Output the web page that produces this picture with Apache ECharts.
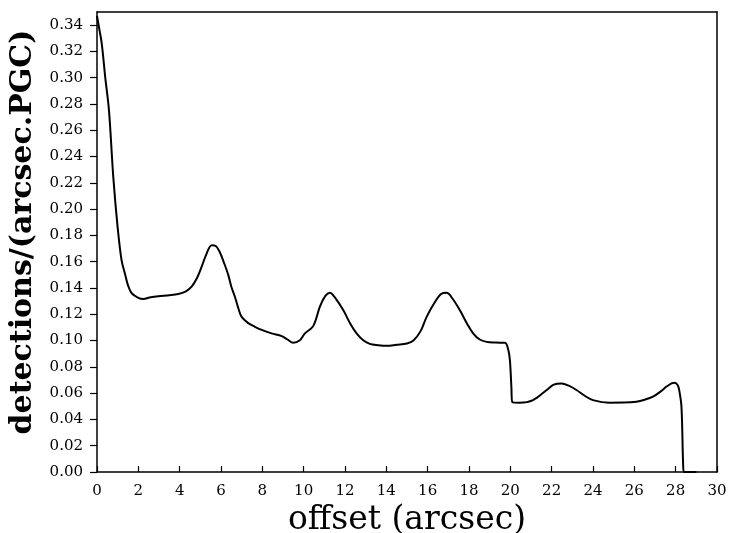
<!DOCTYPE html>
<html>
<head>
<meta charset="utf-8">
<script src="https://cdn.jsdelivr.net/npm/echarts@6/dist/echarts.min.js"></script>
<style>html,body{margin:0;padding:0;background:#fff}#c{width:730px;height:533px}</style>
</head>
<body>
<div id="c"></div>
<script>
const offsetArcsec = [0,0.1,0.23,0.4,0.58,0.79,1.0,1.19,1.35,1.5,1.68,2.0,2.24,2.6,2.97,3.5,3.93,4.3,4.58,4.85,5.06,5.3,5.55,5.75,5.95,6.15,6.35,6.5,6.68,6.85,7.0,7.3,7.64,8.0,8.45,8.94,9.2,9.5,9.8,10.06,10.46,10.79,11.05,11.27,11.5,11.92,12.25,12.56,12.9,13.2,13.6,14.0,14.5,15.0,15.3,15.65,15.95,16.3,16.65,16.92,17.2,17.56,17.9,18.2,18.5,18.85,19.3,19.74,19.9,19.98,20.05,20.1,20.46,21.1,21.76,22.1,22.48,22.85,23.2,23.6,24.0,24.8,25.5,26.1,26.5,26.9,27.25,27.56,27.8,27.96,28.1,28.17,28.28,28.36,28.4,29.0];
const detections = [0.347,0.338,0.326,0.300,0.275,0.224,0.186,0.161,0.151,0.142,0.136,0.1325,0.1316,0.1330,0.1338,0.1345,0.1354,0.1375,0.141,0.148,0.156,0.166,0.1726,0.172,0.167,0.159,0.150,0.141,0.133,0.124,0.118,0.1135,0.1105,0.108,0.1055,0.1034,0.101,0.0983,0.100,0.1055,0.111,0.126,0.134,0.1364,0.133,0.123,0.113,0.1055,0.100,0.0975,0.0965,0.096,0.0968,0.0978,0.0998,0.107,0.118,0.128,0.1355,0.1364,0.132,0.123,0.113,0.1055,0.101,0.099,0.0985,0.0983,0.093,0.085,0.065,0.053,0.0527,0.0547,0.0624,0.0665,0.0674,0.0655,0.0624,0.058,0.0547,0.0527,0.0528,0.0535,0.0550,0.0573,0.061,0.065,0.0675,0.068,0.066,0.0624,0.0497,0.0066,0.0,0.0];
const xTitle = 'offset (arcsec)';
const yTitle = 'detections/(arcsec.PGC)';

const font = 'DejaVu Serif';
const chart = echarts.init(document.getElementById('c'));
chart.setOption({
  animation: false,
  grid: {left: 97, right: 13, top: 12, bottom: 61, outerBoundsMode: 'none', containLabel: false},
  xAxis: [{
    type: 'value', min: 0, max: 30, interval: 2,
    name: xTitle, nameLocation: 'middle', nameGap: 27,
    nameTextStyle: {fontFamily: font, fontSize: 33, color: '#000'},
    axisLine: {onZero: false, lineStyle: {color: '#000', width: 1.5}},
    axisTick: {inside: true, length: 6, lineStyle: {color: '#000', width: 1.2}},
    axisLabel: {fontFamily: font, fontSize: 15, color: '#000', margin: 12},
    splitLine: {show: false}
  }, {
    type: 'value', min: 0, max: 30, position: 'top',
    axisLine: {show: true, onZero: false, lineStyle: {color: '#000', width: 1.5}},
    axisTick: {show: false}, axisLabel: {show: false}, splitLine: {show: false}
  }],
  yAxis: [{
    type: 'value', min: 0, max: 0.35, interval: 0.02,
    name: yTitle, nameLocation: 'middle', nameGap: 58,
    nameTextStyle: {fontFamily: font, fontSize: 30, fontWeight: 'bold', color: '#000', padding: [0, 0, 0, 20]},
    axisLine: {show: true, onZero: false, lineStyle: {color: '#000', width: 1.5}},
    axisTick: {show: true, length: 7, lineStyle: {color: '#000', width: 1.2}},
    axisLabel: {fontFamily: font, fontSize: 15, color: '#000', margin: 14, showMaxLabel: false,
      formatter: v => v.toFixed(2)},
    splitLine: {show: false}
  }, {
    type: 'value', min: 0, max: 0.35, position: 'right',
    axisLine: {show: true, onZero: false, lineStyle: {color: '#000', width: 1.5}},
    axisTick: {show: false}, axisLabel: {show: false}, splitLine: {show: false}
  }],
  series: [{
    type: 'line',
    data: offsetArcsec.map((x, i) => [x, detections[i]]),
    showSymbol: false,
    smooth: 0.35,
    lineStyle: {color: '#000', width: 2},
    clip: true
  }]
});
</script>
</body>
</html>
